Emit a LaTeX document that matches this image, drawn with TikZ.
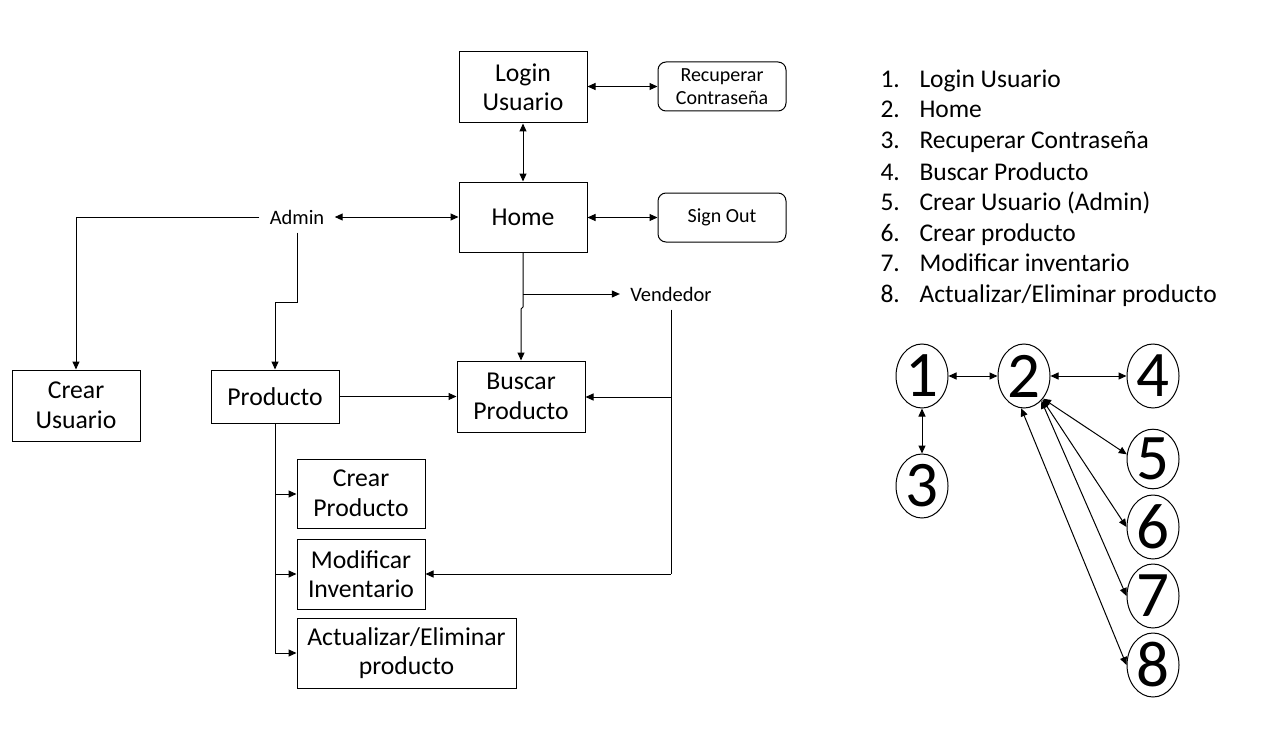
\documentclass[tikz,border=0pt]{standalone}
\usepackage{fontspec}
\setmainfont{Carlito}
\usetikzlibrary{arrows.meta,shapes.geometric}
\begin{document}
\begin{tikzpicture}[x=1pt,y=-1pt,
  line width=1pt,
  arr/.style={-{Triangle[length=8pt,width=7pt]}},
  darr/.style={{Triangle[length=8pt,width=7pt]}-{Triangle[length=8pt,width=7pt]}},
  box/.style={draw,minimum width=128pt,inner sep=0pt,align=center,font=\fontsize{25.7}{29.5}\selectfont},
  rbox/.style={draw,rounded corners=8pt,minimum width=128pt,minimum height=49pt,inner sep=0pt,align=center,font=\fontsize{20}{23}\selectfont},
  lbl/.style={inner xsep=10pt,inner ysep=8pt,font=\fontsize{20.5}{23}\selectfont},
  circ/.style={draw,ellipse,minimum width=52pt,minimum height=64pt,inner sep=0pt,font=\fontsize{65}{65}\selectfont},
  lst/.style={anchor=base west,inner sep=0pt,font=\fontsize{25.5}{28}\selectfont}]
\useasboundingbox (0,0) rectangle (1261,741);
% boxes
\node[box,minimum height=71pt] (login) at (523,87.5) {Login\\Usuario};
\node[rbox] (recup) at (722,86.5) {Recuperar\\Contraseña};
\node[box,minimum height=70pt] (home) at (523,217) {Home};
\node[rbox] (signout) at (722,217.5) {Sign Out};
\node[lbl] (admin) at (297,217) {Admin};
\node[lbl] (vend) at (671,294) {Vendedor};
\node[box,minimum height=71pt] (cu) at (76,405.5) {Crear\\Usuario};
\node[box,minimum height=53pt] (prod) at (275,396.5) {Producto};
\node[box,minimum height=71pt] (busc) at (521,396.5) {Buscar\\Producto};
\node[box,minimum height=69pt] (cp) at (361,493.5) {Crear\\Producto};
\node[box,minimum height=70pt] (mi) at (361,574) {Modificar\\Inventario};
\node[box,minimum width=219pt,minimum height=70pt] (ae) at (406.5,653) {Actualizar/Eliminar\\producto};
% coordinates
\coordinate (ak) at (297,302);
\coordinate (hv) at (523,294);
\coordinate (hj1) at (523,307);
\coordinate (hj2) at (521,309);
\coordinate (vb) at (671,397);
\coordinate (vm) at (671,574);
\coordinate (p1) at (275,494);
\coordinate (p2) at (275,574);
\coordinate (p3) at (275,653);
% connectors
\draw[darr] (login.east |- recup.west) -- (recup.west);
\draw[darr] (login.south) -- (home.north);
\draw[darr] (home.east |- signout.west) -- (signout.west);
\draw[darr] (admin.east) -- (home.west);
\draw[arr] (admin.west) -| (cu.north);
\draw[arr] (admin.south) -- (ak) -| (prod.north);
\draw[arr] (home.south) -- (hj1) -- (hj2) -- (busc.north);
\draw[arr] (hv) -- (vend.west);
\draw (vend.south) -- (vm);
\draw[arr] (vb) -- (busc.east |- vb);
\draw[arr] (vm) -- (mi.east |- vm);
\draw[arr] (prod.east) -- (busc.west);
\draw (prod.south) -- (p3);
\draw[arr] (p1) -- (cp.west |- p1);
\draw[arr] (p2) -- (mi.west |- p2);
\draw[arr] (p3) -- (ae.west |- p3);
% list
\node[lst] (l1) at (880,88) {1.};   \node[lst] (t1) at (919,88) {Login Usuario};
\node[lst] (l2) at (880,118) {2.};  \node[lst] (t2) at (919,118) {Home};
\node[lst] (l3) at (880,149) {3.};  \node[lst] (t3) at (919,149) {Recuperar Contraseña};
\node[lst] (l4) at (880,180) {4.};  \node[lst] (t4) at (919,180) {Buscar Producto};
\node[lst] (l5) at (880,210) {5.};  \node[lst] (t5) at (919,210) {Crear Usuario (Admin)};
\node[lst] (l6) at (880,241) {6.};  \node[lst] (t6) at (919,241) {Crear producto};
\node[lst] (l7) at (880,271) {7.};  \node[lst] (t7) at (919,271) {Modificar inventario};
\node[lst] (l8) at (880,302) {8.};  \node[lst] (t8) at (919,302) {Actualizar/Eliminar producto};
% circles
\node[circ] (c1) at (922,376) {1};
\node[circ] (c2) at (1024,376) {2};
\node[circ] (c3) at (922,486) {3};
\node[circ] (c4) at (1153,376) {4};
\node[circ,minimum height=58pt] (c5) at (1153,459) {5};
\node[circ] (c6) at (1153,527) {6};
\node[circ] (c7) at (1153,596) {7};
\node[circ] (c8) at (1153,665) {8};
\draw[darr] (c1.east) -- (c2.west);
\draw[darr] (c2.east) -- (c4.west);
\draw[darr] (c1.south) -- (c3.north);
\draw[darr] (c2.-50) -- (c5.170);
\draw[darr] (c2.-52) -- (c6.west);
\draw[darr] (c2.-55) -- (c7.west);
\draw[darr] (c2.-95) -- (c8.west);
\end{tikzpicture}
\end{document}
